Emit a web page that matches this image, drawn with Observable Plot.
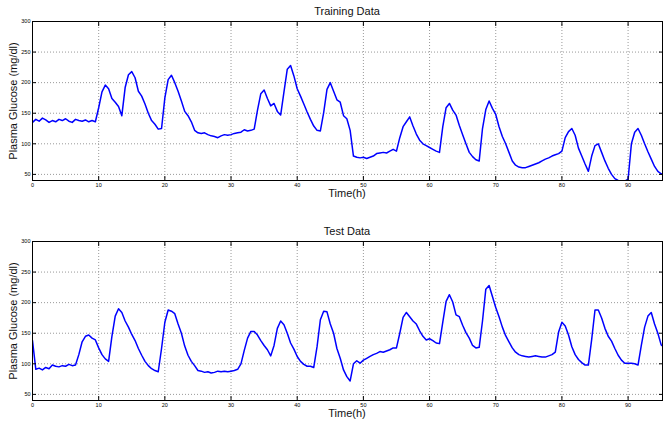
<!DOCTYPE html>
<html><head><meta charset="utf-8">
<script src="https://cdn.jsdelivr.net/npm/d3@7"></script>
<script src="https://cdn.jsdelivr.net/npm/@observablehq/plot@0.6"></script>
<style>
body{margin:0;background:#fff;font-family:"Liberation Sans",Arial,Helvetica,sans-serif;}
#wrap{position:relative;width:663px;height:421px;overflow:hidden;}
.panel{position:absolute;left:0;}
.lbl{position:absolute;font-size:11px;font-weight:normal;color:#111;white-space:nowrap;transform:translate(-50%,-50%);}
.ylbl{transform:translate(-50%,-50%) rotate(-90deg);}
</style></head><body><div id="wrap"></div>
<script>
const timeStep = 0.5; // hours between readings
const trainingGlucose = [
135,140,137,142,139,135,138,136,140,138,
141,137,135,140,138,137,139,136,138,136,
159,185,196,190,174,168,161,146,192,213,
218,208,186,178,165,150,138,132,124,125,
175,205,212,200,186,170,153,146,136,122,
118,117,118,115,113,112,110,113,115,114,
115,117,118,119,123,121,122,124,155,182,
188,174,162,166,153,147,185,222,228,211,
190,178,165,152,140,129,122,121,151,189,
200,186,172,168,146,141,122,80,78,77,
78,76,78,80,84,85,86,85,88,91,
88,110,128,136,144,129,116,106,100,97,
94,91,88,86,128,159,166,155,147,130,
115,100,86,79,74,72,125,156,170,158,
148,128,112,100,86,72,65,62,61,61,
63,65,67,69,72,75,77,80,82,84,
88,110,120,125,114,93,80,67,55,80,
97,100,86,72,60,50,43,40,39,39,
42,100,119,125,114,100,87,75,63,55,51,49];
const testGlucose = [
138,91,93,90,94,92,98,96,95,97,
96,99,97,98,115,136,145,147,142,139,
126,115,108,104,145,178,190,184,170,160,
148,138,125,114,104,97,92,89,87,125,
168,188,186,182,165,150,129,114,104,97,
89,88,86,87,85,86,88,87,88,87,
88,89,91,100,122,142,153,153,147,138,
130,123,113,130,158,170,164,150,134,124,
112,104,99,96,96,94,128,172,186,185,
165,150,125,109,90,79,72,100,105,101,
106,109,112,115,117,120,119,121,123,126,
126,150,176,184,177,170,165,154,145,139,
141,138,134,133,168,202,213,201,180,177,
163,151,142,130,126,127,170,222,228,210,
192,177,160,146,136,126,119,115,113,112,
111,112,113,112,111,111,113,115,119,152,
168,162,147,128,115,107,102,98,98,140,
188,188,175,158,145,137,125,114,106,101,
101,101,100,98,130,160,178,184,165,150,131,127];
const xTicks = [0,10,20,30,40,50,60,70,80,90];
const yTicks = [50,100,150,200,250,300];
const xDomain = [0, 95.2];
const yDomain = [40, 300];
const panelTitles = ["Training Data", "Test Data"];
const xLabel = "Time(h)";
const yLabel = "Plasma Glucose (mg/dl)";

const wrap = document.getElementById("wrap");
const W = 663, H = 200, ML = 32, MR = 1, MT = 21, MB = 20;

function addLabel(text, x, y, cls) {
  const d = document.createElement("div");
  d.className = "lbl" + (cls ? " " + cls : "");
  d.textContent = text;
  d.style.left = x + "px";
  d.style.top = y + "px";
  wrap.appendChild(d);
}

function panel(values, title, top) {
  const data = values.map((g, i) => ({t: i * timeStep, g}));
  const tickStyle = {tickSize: -4, fontSize: 5.5, label: null, stroke: "#000"};
  const chart = Plot.plot({
    width: W, height: H,
    marginLeft: ML, marginRight: MR, marginTop: MT, marginBottom: MB,
    style: {background: "transparent", fontFamily: "Liberation Sans, Arial, sans-serif", color: "#000"},
    x: {domain: xDomain},
    y: {domain: yDomain},
    marks: [
      Plot.gridX(xTicks, {stroke: "#999", strokeOpacity: 1, strokeDasharray: "1,2"}),
      Plot.gridY(yTicks, {stroke: "#999", strokeOpacity: 1, strokeDasharray: "1,2"}),
      Plot.line(data, {x: "t", y: "g", stroke: "#0000ff", strokeWidth: 1.5, clip: true}),
      Plot.axisX(xTicks, {...tickStyle, anchor: "bottom", tickPadding: 7}),
      Plot.axisX(xTicks, {...tickStyle, anchor: "top", tickFormat: () => ""}),
      Plot.axisY(yTicks, {...tickStyle, anchor: "left", tickPadding: 6}),
      Plot.axisY(yTicks, {...tickStyle, anchor: "right", tickFormat: () => ""}),
      Plot.frame({stroke: "#000", strokeWidth: 1})
    ]
  });
  chart.classList.add("panel");
  chart.style.top = top + "px";
  wrap.appendChild(chart);
  const cx = ML + (W - ML - MR) / 2;
  addLabel(title, cx, top + 11);
  addLabel(xLabel, cx, top + 193);
  addLabel(yLabel, 13, top + MT + (H - MT - MB) / 2, "ylbl");
}

panel(trainingGlucose, panelTitles[0], 0);
panel(testGlucose, panelTitles[1], 220);
</script></body></html>
